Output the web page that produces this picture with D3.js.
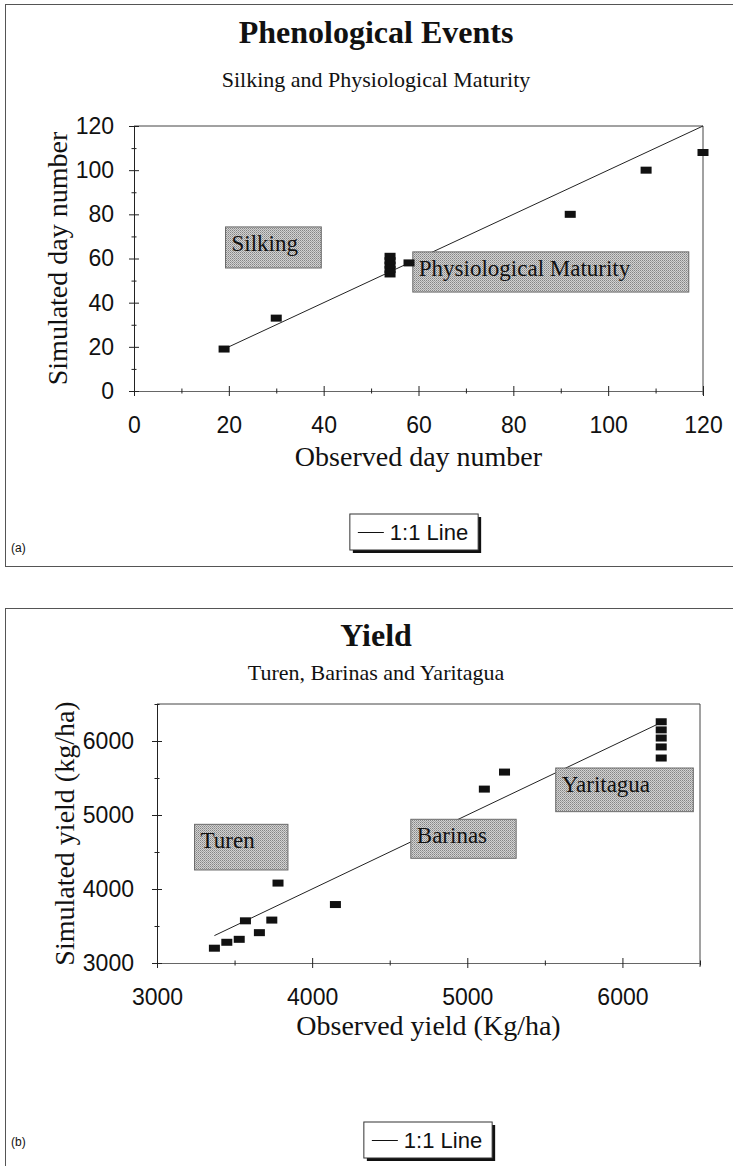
<!DOCTYPE html>
<html>
<head>
<meta charset="utf-8">
<script src="https://cdn.jsdelivr.net/npm/d3@7"></script>
<style>
	body { margin: 0; background: #fff; }
	.serif { font-family: "Liberation Serif", "Times New Roman", serif; fill: #111; }
	.sans { font-family: "Liberation Sans", Arial, sans-serif; fill: #111; }
</style>
</head>
<body>
<svg id="chart" width="733" height="1166"></svg>
<script>
// (a) phenological events: observed vs simulated day number
const phenoObserved = [19, 30, 54, 54, 54, 54, 54, 58, 92, 108, 120];
const phenoSimulated = [19, 33, 53, 55, 57, 59, 61, 58, 80, 100, 108];
const phenoLine = [19, 120];
const phenoMajor = [0, 20, 40, 60, 80, 100, 120];
const phenoMinor = [10, 30, 50, 70, 90, 110];
const phenoNotes = [
	{ text: 'Silking', x0: 19.3, x1: 39.5, y0: 74.3, y1: 55.7 },
	{ text: 'Physiological Maturity', x0: 58.8, x1: 117, y0: 63, y1: 44.8 }
];

// (b) yield: observed vs simulated kg/ha
const yieldObserved = [3370, 3450, 3530, 3570, 3660, 3740, 3780, 4150, 5110, 5240, 6250, 6250, 6250, 6250, 6250];
const yieldSimulated = [3200, 3280, 3320, 3570, 3410, 3580, 4080, 3790, 5350, 5580, 6260, 6150, 6040, 5920, 5770];
const yieldLine = [3370, 6250];
const yieldMajor = [3000, 4000, 5000, 6000];
const yieldMinor = [3500, 4500, 5500, 6500];
const yieldNotes = [
	{ text: 'Turen', x0: 3242, x1: 3844, y0: 4874, y1: 4257 },
	{ text: 'Barinas', x0: 4636, x1: 5315, y0: 4942, y1: 4415 },
	{ text: 'Yaritagua', x0: 5570, x1: 6457, y0: 5635, y1: 5045 }
];

const svg = d3.select('#chart');

svg.append('rect').attr('width', 733).attr('height', 1166).attr('fill', '#fff');

// dithered grey like the scanned text boxes
const dither = svg
	.append('defs')
	.append('pattern')
	.attr('id', 'dither')
	.attr('width', 2)
	.attr('height', 2)
	.attr('patternUnits', 'userSpaceOnUse');
dither.append('rect').attr('width', 2).attr('height', 2).attr('fill', '#d2d2d2');
dither.append('rect').attr('width', 1).attr('height', 1).attr('fill', '#858585');
dither.append('rect').attr('x', 1).attr('y', 1).attr('width', 1).attr('height', 1).attr('fill', '#a2a2a2');

const crossTicks = (sel, size, horizontal) => {
	sel.selectAll('.tick line')
		.attr(horizontal ? 'y1' : 'x1', -size)
		.attr(horizontal ? 'y2' : 'x2', size)
		.attr('stroke', '#222');
};

const drawPanel = p => {
	const g = svg.append('g');
	const x = d3.scaleLinear().domain(p.domain).range(p.xRange);
	const y = d3.scaleLinear().domain(p.domain).range(p.yRange);
	const [x0, x1] = p.xRange;
	const [yb, yt] = p.yRange;

	g.append('rect')
		.attr('x', 5.5)
		.attr('y', p.top + 0.5)
		.attr('width', 760)
		.attr('height', p.height)
		.attr('fill', 'none')
		.attr('stroke', '#555');

	g.append('text')
		.attr('class', 'serif')
		.attr('x', 376)
		.attr('y', p.titleY)
		.attr('text-anchor', 'middle')
		.attr('font-size', 32)
		.attr('font-weight', 'bold')
		.text(p.title);

	g.append('text')
		.attr('class', 'serif')
		.attr('x', 376)
		.attr('y', p.subY)
		.attr('text-anchor', 'middle')
		.attr('font-size', 22)
		.text(p.subtitle);

	// frame top + right
	g.append('path')
		.attr('d', `M${x0},${yt}H${x1}V${yb + 4}`)
		.attr('fill', 'none')
		.attr('stroke', '#444');

	const fmt = d3.format('d');

	const xAxis = g
		.append('g')
		.attr('transform', `translate(0,${yb})`)
		.call(d3.axisBottom(x).tickValues(p.major).tickSizeOuter(0).tickFormat(fmt));
	xAxis.select('.domain').attr('stroke', '#666');
	crossTicks(xAxis, 5, true);
	xAxis.selectAll('text')
		.attr('class', 'sans')
		.attr('font-size', 23)
		.attr('y', 26);

	const xMinor = g
		.append('g')
		.attr('transform', `translate(0,${yb})`)
		.call(d3.axisBottom(x).tickValues(p.minor).tickFormat(''));
	xMinor.select('.domain').remove();
	crossTicks(xMinor, 2.5, true);

	const yAxis = g
		.append('g')
		.attr('transform', `translate(${x0},0)`)
		.call(d3.axisLeft(y).tickValues(p.major).tickSizeOuter(0).tickFormat(fmt));
	yAxis.select('.domain').attr('stroke', '#222');
	crossTicks(yAxis, 5, false);
	yAxis.selectAll('text')
		.attr('class', 'sans')
		.attr('font-size', 23)
		.attr('x', -p.yPad);

	const yMinor = g
		.append('g')
		.attr('transform', `translate(${x0},0)`)
		.call(d3.axisLeft(y).tickValues(p.minor).tickFormat(''));
	yMinor.select('.domain').remove();
	crossTicks(yMinor, 2.5, false);

	g.selectAll('.domain, .tick line').attr('stroke-width', 1);

	g.append('text')
		.attr('class', 'serif')
		.attr('x', (x0 + x1) / 2)
		.attr('y', yb + p.xTitleGap)
		.attr('text-anchor', 'middle')
		.attr('font-size', 28)
		.text(p.xTitle);

	g.append('text')
		.attr('class', 'serif')
		.attr('transform', `translate(${p.yTitleX},${(yb + yt) / 2}) rotate(-90)`)
		.attr('text-anchor', 'middle')
		.attr('font-size', 28)
		.text(p.yTitle);

	// 1:1 line
	g.append('path')
		.datum(p.line)
		.attr('d', d3.line().x(d => x(d)).y(d => y(d)))
		.attr('fill', 'none')
		.attr('stroke', '#222')
		.attr('stroke-width', 1);

	const notes = g.selectAll('.note').data(p.notes).enter().append('g');
	notes.append('rect')
		.attr('x', d => x(d.x0))
		.attr('y', d => y(d.y0))
		.attr('width', d => x(d.x1) - x(d.x0))
		.attr('height', d => y(d.y1) - y(d.y0))
		.attr('fill', 'url(#dither)')
		.attr('stroke', '#6a6a6a');
	notes.append('text')
		.attr('class', 'serif')
		.attr('x', d => x(d.x0) + 6)
		.attr('y', d => y(d.y0) + 24)
		.attr('font-size', 23)
		.text(d => d.text);

	g.selectAll('.pt')
		.data(p.obs)
		.enter()
		.append('rect')
		.attr('x', d => x(d) - 5.5)
		.attr('y', (d, i) => y(p.sim[i]) - 3.5)
		.attr('width', 11)
		.attr('height', 7)
		.attr('fill', '#111');

	// legend with drop shadow
	const leg = g.append('g');
	const label = leg
		.append('text')
		.attr('class', 'sans')
		.attr('x', 40)
		.attr('y', 26)
		.attr('font-size', 22)
		.text('1:1 Line');
	const w = label.node().getComputedTextLength() + 50;
	leg.insert('rect', 'text').attr('x', 3).attr('y', 3).attr('width', w).attr('height', 36).attr('fill', '#111');
	leg.insert('rect', 'text')
		.attr('width', w)
		.attr('height', 36)
		.attr('fill', '#fff')
		.attr('stroke', '#333');
	leg.append('line')
		.attr('x1', 8)
		.attr('x2', 34)
		.attr('y1', 18.5)
		.attr('y2', 18.5)
		.attr('stroke', '#111');
	leg.attr('transform', `translate(${p.legendX - w / 2},${p.legendY})`);

	g.append('text')
		.attr('class', 'sans')
		.attr('x', 11)
		.attr('y', p.tagY)
		.attr('font-size', 12)
		.text(p.tag);
};

drawPanel({
	title: 'Phenological Events',
	subtitle: 'Silking and Physiological Maturity',
	xTitle: 'Observed day number',
	yTitle: 'Simulated day number',
	tag: '(a)',
	obs: phenoObserved,
	sim: phenoSimulated,
	line: phenoLine,
	major: phenoMajor,
	minor: phenoMinor,
	notes: phenoNotes,
	domain: [0, 120],
	xRange: [134, 703],
	yRange: [391, 126],
	top: 4,
	height: 562,
	titleY: 43,
	subY: 87,
	yPad: 20,
	yTitleX: 67,
	xTitleGap: 75,
	legendX: 414,
	legendY: 514,
	tagY: 552
});

drawPanel({
	title: 'Yield',
	subtitle: 'Turen, Barinas and Yaritagua',
	xTitle: 'Observed yield (Kg/ha)',
	yTitle: 'Simulated yield (kg/ha)',
	tag: '(b)',
	obs: yieldObserved,
	sim: yieldSimulated,
	line: yieldLine,
	major: yieldMajor,
	minor: yieldMinor,
	notes: yieldNotes,
	domain: [3000, 6500],
	xRange: [157, 700],
	yRange: [963, 704],
	top: 608,
	height: 600,
	titleY: 646,
	subY: 680,
	yPad: 23,
	yTitleX: 74,
	xTitleGap: 72,
	legendX: 428,
	legendY: 1122,
	tagY: 1146
});
</script>
</body>
</html>
